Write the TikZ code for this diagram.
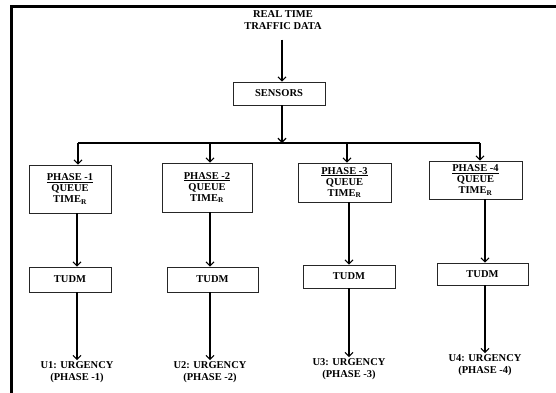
\documentclass[tikz,border=0pt]{standalone}
\usepackage{fontspec}
\setmainfont{Liberation Serif}
\usetikzlibrary{arrows.meta}

\tikzset{
  box/.style={draw=black!85, line width=0.6pt, inner sep=1pt, align=center,
    font=\bfseries\fontsize{10.5}{11}\selectfont},
  lbl/.style={align=center, inner sep=1pt, font=\bfseries\fontsize{10.5}{12}\selectfont},
  wire/.style={line width=1.2pt},
  arr/.style={wire, -{Straight Barb[length=4pt,width=8pt,line width=1.2pt]}}
}

\begin{document}
\begin{tikzpicture}[x=1pt,y=-1pt]
    \useasboundingbox (0,0) rectangle (556,392);
    \draw[line width=3pt] (11,400) -- (11,6) -- (560,6);

    \node[lbl] (data) at (283,20) {REAL TIME\\TRAFFIC DATA};
    \node[box, minimum width=92pt, minimum height=23pt] (sens) at (279,93.5) {SENSORS};
    \coordinate (split) at (282,143);
    \coordinate (b1) at (78,143);
    \coordinate (b2) at (210,143);
    \coordinate (b3) at (347,143);
    \coordinate (b4) at (480,143);

    \node[box, minimum width=82pt, minimum height=48pt] (p1) at (70,189) {\underline{PHASE -1}\\QUEUE\\TIME\textsubscript{R}};
    \node[box, minimum width=90pt, minimum height=49pt] (p2) at (207,187.5) {\underline{PHASE -2}\\QUEUE\\TIME\textsubscript{R}};
    \node[box, minimum width=93pt, minimum height=39pt] (p3) at (344.5,182.5) {\underline{PHASE -3}\\QUEUE\\TIME\textsubscript{R}};
    \node[box, minimum width=93pt, minimum height=38pt] (p4) at (475.5,180) {\underline{PHASE -4}\\QUEUE\\TIME\textsubscript{R}};

    \node[box, minimum width=82pt, minimum height=25pt] (t1) at (70,279.5) {TUDM};
    \node[box, minimum width=91pt, minimum height=25pt] (t2) at (212.5,279.5) {TUDM};
    \node[box, minimum width=92pt, minimum height=23pt] (t3) at (349,276.5) {TUDM};
    \node[box, minimum width=91pt, minimum height=22pt] (t4) at (482.5,274) {TUDM};

    \node[lbl] (u1) at (77,372) {U1: URGENCY\\(PHASE -1)};
    \node[lbl] (u2) at (210,372) {U2: URGENCY\\(PHASE -2)};
    \node[lbl] (u3) at (349,369) {U3: URGENCY\\(PHASE -3)};
    \node[lbl] (u4) at (485,365) {U4: URGENCY\\(PHASE -4)};

    \draw[arr, shorten <=9pt] (data.south -| split) -- (sens.north -| split);
    \draw[arr] (sens.south -| split) -- (split);
    \draw[wire] (b1) -- (b4);
    \foreach \i in {1,...,4} {
      \draw[arr] (b\i) -- (p\i.north -| b\i);
      \draw[arr] (p\i.south -| u\i) -- (t\i.north -| u\i);
      \draw[arr] (t\i.south -| u\i) -- (u\i.north);
    }
\end{tikzpicture}
\end{document}
